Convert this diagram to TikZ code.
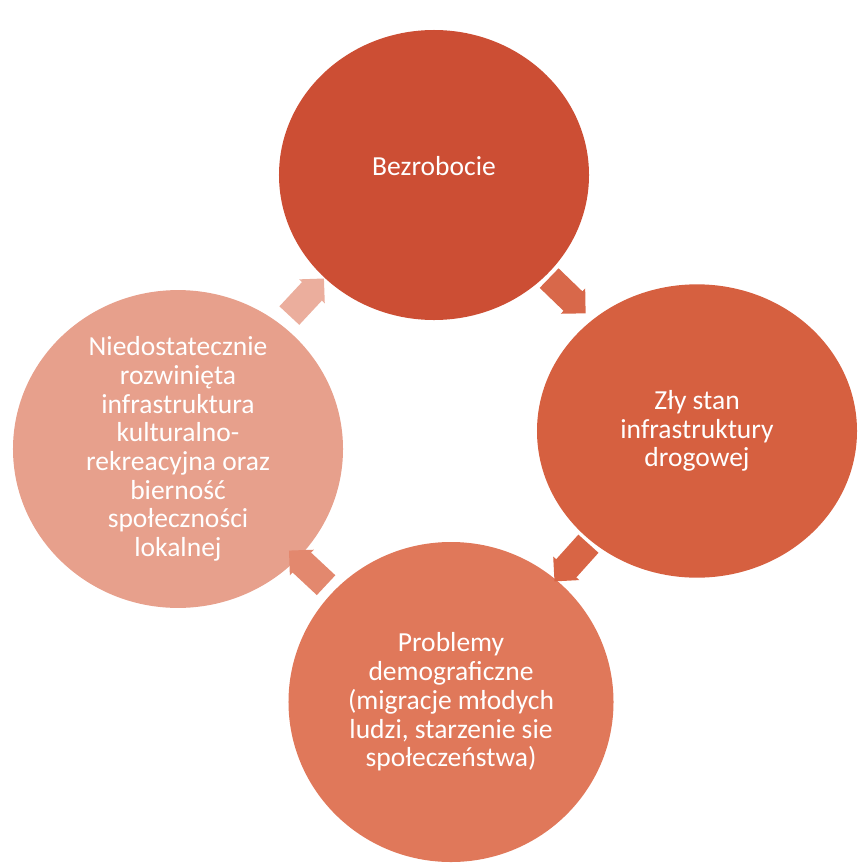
\documentclass[tikz,border=0pt]{standalone}
\usepackage{fontspec}
\setmainfont{Carlito}
\usetikzlibrary{calc, shapes.geometric, shapes.arrows}
\definecolor{kolorA}{RGB}{204,78,52}
\definecolor{kolorB}{RGB}{214,96,64}
\definecolor{kolorC}{RGB}{224,120,90}
\definecolor{kolorD}{RGB}{231,160,140}

\begin{document}
\begin{tikzpicture}[x=0.03cm, y=-0.03cm,
    krag/.style={ellipse, inner sep=0pt, text=white, align=center, font=\fontsize{23.5}{24.5}\selectfont},
    strzalka/.style={single arrow, single arrow head extend=0.12cm, inner xsep=0.55cm, inner ysep=0.4cm}]
    \useasboundingbox (0,0) rectangle (857,864);
    \node[krag, fill=kolorA, minimum width=9.3cm, minimum height=8.7cm] (bezrobocie) at (434,175) {Bezrobocie\\[-8.5pt]};
    \node[krag, fill=kolorB, minimum width=9.6cm, minimum height=8.8cm] (drogi) at (697,431) {Zły stan\\infrastruktury\\drogowej};
    \node[krag, fill=kolorC, minimum width=9.75cm, minimum height=9.6cm] (demografia) at (451,702) {Problemy\\demograficzne\\(migracje młodych\\ludzi, starzenie sie\\społeczeństwa)};
    \node[krag, fill=kolorD, minimum width=9.9cm, minimum height=9.5cm] (kultura) at (178,449) {Niedostatecznie\\rozwinięta\\infrastruktura\\kulturalno-\\rekreacyjna oraz\\bierność\\społeczności\\lokalnej};
    \node[strzalka, fill=kolorB!95!white, rotate=-44] (s1) at ($(bezrobocie)!0.5!(drogi)+(-3,-12)$) {};
    \node[strzalka, fill=kolorB!80!kolorC, rotate=-132] (s2) at ($(drogi)!0.5!(demografia)+(2,-9)$) {};
    \node[strzalka, fill=kolorC!60!kolorD, rotate=137] (s3) at ($(demografia)!0.5!(kultura)+(-2,-3)$) {};
    \node[strzalka, fill=kolorD!85!white, rotate=47] (s4) at ($(kultura)!0.5!(bezrobocie)+(-4,-10)$) {};
\end{tikzpicture}
\end{document}
